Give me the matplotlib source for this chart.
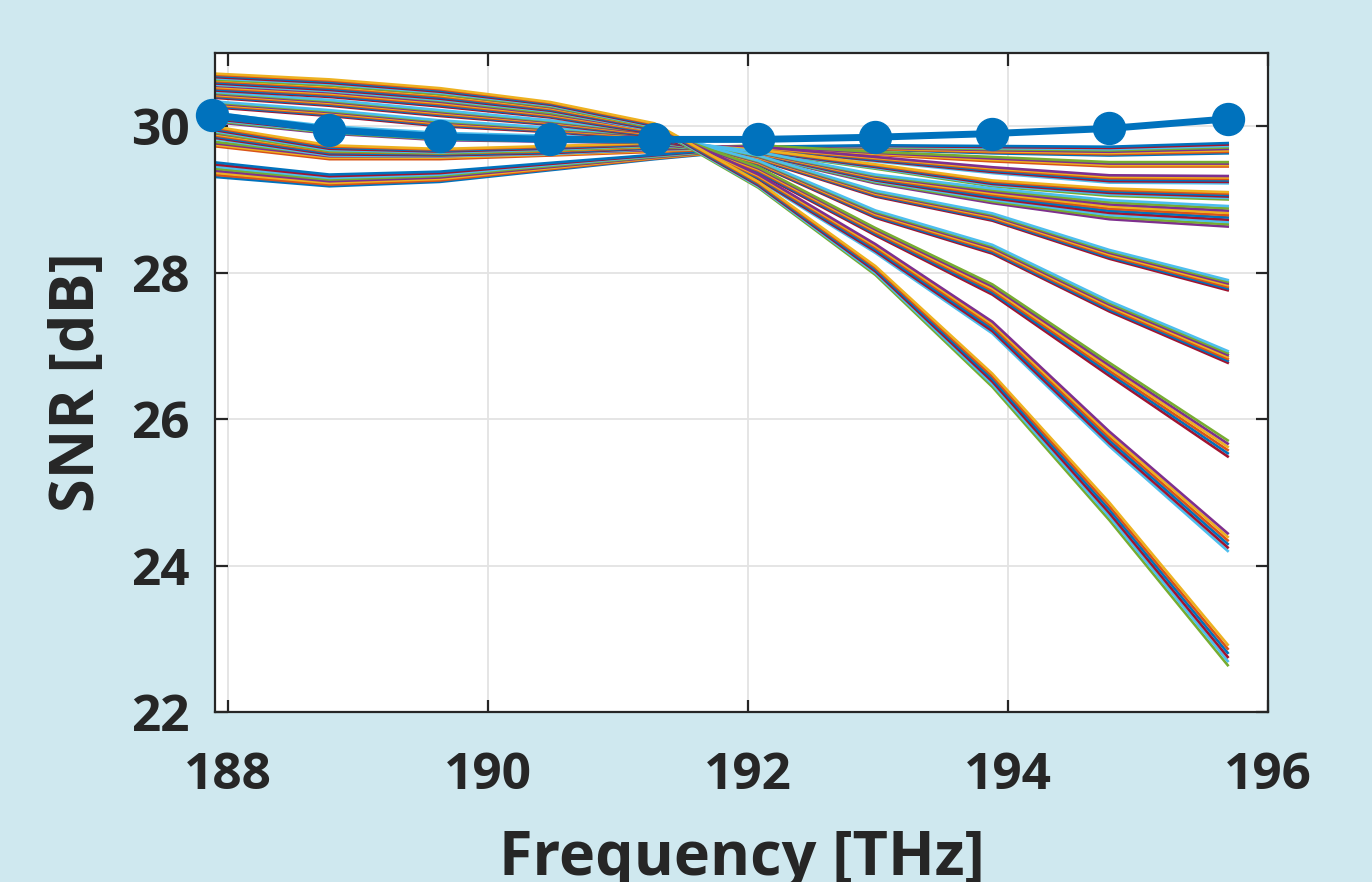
import numpy as np
import matplotlib.pyplot as plt

# --- frequency grid (THz) and SNR traces ---
freq = [187.88, 188.78, 189.63, 190.48, 191.28, 192.08, 192.98, 193.88, 194.78, 195.69]

# optimised launch (thick line with markers)
snr_opt = [30.16, 29.95, 29.86, 29.82, 29.82, 29.82, 29.85, 29.90, 29.97, 30.10]

# bundles of thin lines: centre of each bundle
snr_a = [29.41, 29.26, 29.31, 29.45, 29.58, 29.70, 29.71, 29.68, 29.66, 29.70]
snr_b = [29.76, 29.58, 29.58, 29.62, 29.67, 29.72, 29.63, 29.55, 29.48, 29.48]
snr_c = [29.87, 29.64, 29.62, 29.65, 29.71, 29.70, 29.55, 29.40, 29.28, 29.27]
snr_d = [29.96, 29.70, 29.66, 29.70, 29.75, 29.66, 29.45, 29.22, 29.10, 29.05]
snr_e = [30.12, 29.95, 29.86, 29.83, 29.80, 29.62, 29.28, 29.05, 28.86, 28.77]
snr_f = [30.30, 30.18, 30.04, 29.95, 29.85, 29.57, 29.08, 28.76, 28.25, 27.83]
snr_g = [30.43, 30.32, 30.18, 30.05, 29.89, 29.50, 28.80, 28.32, 27.54, 26.85]
snr_h = [30.53, 30.44, 30.31, 30.15, 29.93, 29.40, 28.56, 27.77, 26.68, 25.60]
snr_i = [30.61, 30.52, 30.40, 30.23, 29.97, 29.30, 28.33, 27.25, 25.73, 24.32]
snr_j = [30.68, 30.60, 30.48, 30.30, 30.01, 29.20, 28.03, 26.53, 24.74, 22.78]

# half-width of each bundle at every frequency
half_a = [0.10, 0.08, 0.07, 0.05, 0.03, 0.02, 0.03, 0.05, 0.06, 0.07]
half_b = [0.03, 0.03, 0.03, 0.02, 0.02, 0.02, 0.02, 0.03, 0.03, 0.03]
half_c = [0.04, 0.04, 0.03, 0.03, 0.02, 0.02, 0.03, 0.04, 0.05, 0.05]
half_d = [0.04, 0.04, 0.03, 0.03, 0.02, 0.02, 0.03, 0.04, 0.05, 0.05]
half_e = [0.06, 0.05, 0.05, 0.04, 0.03, 0.03, 0.06, 0.10, 0.13, 0.14]
half_f = [0.04, 0.04, 0.04, 0.03, 0.03, 0.03, 0.04, 0.05, 0.06, 0.07]
half_g = [0.04, 0.04, 0.04, 0.03, 0.03, 0.03, 0.05, 0.06, 0.07, 0.08]
half_h = [0.04, 0.04, 0.04, 0.03, 0.03, 0.04, 0.05, 0.07, 0.09, 0.11]
half_i = [0.04, 0.04, 0.04, 0.03, 0.03, 0.04, 0.06, 0.08, 0.10, 0.12]
half_j = [0.04, 0.04, 0.04, 0.03, 0.03, 0.04, 0.06, 0.09, 0.12, 0.14]

# number of traces in each bundle
n_lines = [8, 4, 6, 6, 10, 7, 7, 6, 6, 6]

centres = [snr_a, snr_b, snr_c, snr_d, snr_e, snr_f, snr_g, snr_h, snr_i, snr_j]
halves = [half_a, half_b, half_c, half_d, half_e, half_f, half_g, half_h, half_i, half_j]

# MATLAB default colour order
colors = ['#0072BD', '#D95319', '#EDB120', '#7E2F8E', '#77AC30', '#4DBEEE', '#A2142F']

bg = '#cfe8ef'
ink = '#262626'
plt.rcParams['font.family'] = ['Open Sans', 'DejaVu Sans']
plt.rcParams['font.weight'] = 'bold'

fig = plt.figure(figsize=(13.72, 8.82), dpi=100, facecolor=bg)
ax = fig.add_axes([0.1567, 0.1927, 0.9242 - 0.1567, 0.9399 - 0.1927])
ax.set_facecolor('white')

x = np.array(freq)
k = 0
for c, h, n in zip(centres, halves, n_lines):
    c = np.array(c)
    h = np.array(h)
    for p in np.linspace(-1, 1, n):
        ax.plot(x, c + p * h, color=colors[k % 7], lw=1.9, zorder=2)
        k += 1

ax.plot(x, snr_opt, color='#0072BD', lw=5, marker='o', markersize=23,
        zorder=5, clip_on=False)

ax.set_xlim(187.9, 196.0)
ax.set_ylim(22, 31)
ax.set_xticks([188, 190, 192, 194, 196])
ax.set_yticks([22, 24, 26, 28, 30])
ax.grid(True, color='#e3e3e3', lw=1.3, zorder=0)
ax.set_axisbelow(True)

for s in ax.spines.values():
    s.set_color(ink)
    s.set_linewidth(1.6)
ax.tick_params(direction='in', length=9, width=1.6, color=ink,
               top=True, right=True, labelsize=37, labelcolor=ink)
ax.tick_params(axis='x', pad=28)
ax.tick_params(axis='y', pad=18)

ax.set_xlabel('Frequency [THz]', fontsize=44, fontweight='bold', color=ink, labelpad=20)
ax.set_ylabel('SNR [dB]', fontsize=44, fontweight='bold', color=ink, labelpad=16)

fig.savefig('out.png', dpi=100, facecolor=bg)
